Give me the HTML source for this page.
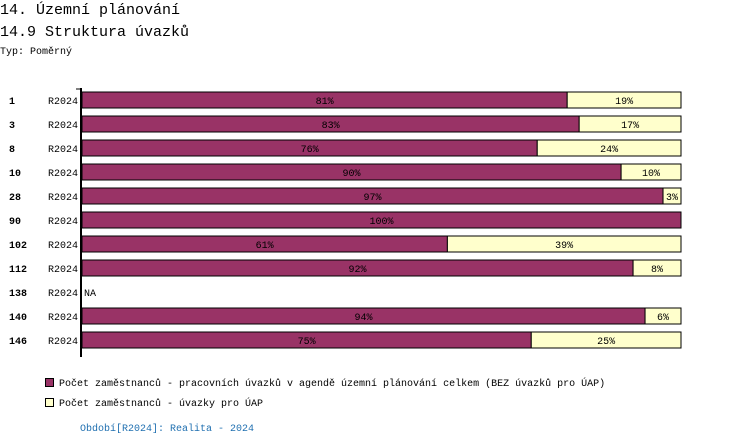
<!DOCTYPE html>
<html><head><meta charset="utf-8"><style>
body{margin:0;width:750px;height:446px;background:#fff;font-family:"Liberation Mono","DejaVu Sans Mono",monospace;overflow:hidden}
svg{position:absolute;left:0;top:0}
</style></head><body>
<svg width="750" height="446" font-family="Liberation Mono, DejaVu Sans Mono, monospace">
<text x="0" y="14" font-size="15">14. Územní plánování</text>
<text x="0" y="36" font-size="15">14.9 Struktura úvazků</text>
<text x="0" y="54" font-size="10">Typ: Poměrný</text>
<line x1="81" y1="88" x2="81" y2="357" stroke="#000" stroke-width="2"/>
<line x1="76" y1="89" x2="81" y2="89" stroke="#000" stroke-width="1"/>
<g id="bars"></g>
<rect x="45.5" y="378.5" width="8" height="8" fill="#993366" stroke="#000"/>
<text x="59" y="386" font-size="10">Počet zaměstnanců - pracovních úvazků v agendě územní plánování celkem (BEZ úvazků pro ÚAP)</text>
<rect x="45.5" y="398.5" width="8" height="8" fill="#ffffcc" stroke="#000"/>
<text x="59" y="406" font-size="10">Počet zaměstnanců - úvazky pro ÚAP</text>
<text x="80" y="431" font-size="10" fill="#1f6fb0">Období[R2024]: Realita - 2024</text>
</svg>
<script>
const categories=["1","3","8","10","28","90","102","112","138","140","146"];
const seriesA=[81,83,76,90,97,100,61,92,null,94,75];
const seriesB=[19,17,24,10,3,0,39,8,null,6,25];
const x0=82,pw=599,top0=100,step=24,bh=16;
const xs=v=>x0+v/100*pw;
const ys=i=>top0+i*step;
const g=document.getElementById('bars');
const NS='http://www.w3.org/2000/svg';
function mk(t,a){const e=document.createElementNS(NS,t);for(const k in a)e.setAttribute(k,a[k]);g.appendChild(e);return e;}
categories.forEach((c,i)=>{
  const y=ys(i);
  let t=mk('text',{x:9,y:y+4,'font-size':10,'font-weight':'bold'});t.textContent=c;
  
  
  t=mk('text',{x:78,y:y+4,'font-size':10,'text-anchor':'end'});t.textContent='R2024';
  
  
  const a=seriesA[i],b=seriesB[i];
  if(a==null){t=mk('text',{x:84,y:y+4,'font-size':10});t.textContent='NA';
    
    return;}
  let r=mk('rect',{x:xs(0),y:y-bh/2,width:xs(a)-xs(0),height:bh,fill:'#993366',stroke:'#000','stroke-width':1});
  
  
  t=mk('text',{x:(xs(0)+xs(a))/2,y:y+4,'font-size':10,'text-anchor':'middle'});t.textContent=a+'%';
  
  
  if(b>0){
    r=mk('rect',{x:xs(a),y:y-bh/2,width:xs(a+b)-xs(a),height:bh,fill:'#ffffcc',stroke:'#000','stroke-width':1});
    
    
    t=mk('text',{x:(xs(a)+xs(a+b))/2,y:y+4,'font-size':10,'text-anchor':'middle'});t.textContent=b+'%';
    
    
  }
});
</script>
</body></html>
